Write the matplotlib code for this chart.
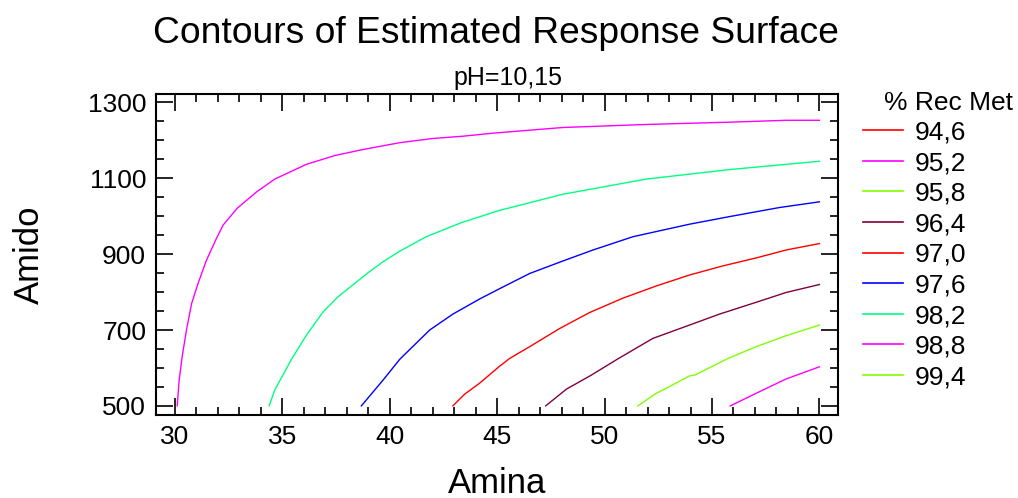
import numpy as np
import matplotlib.pyplot as plt
from matplotlib.lines import Line2D
from matplotlib.ticker import MultipleLocator

plt.rcParams['font.family'] = ['Liberation Sans', 'DejaVu Sans']

# contour levels shown in the legend
levels = ['94,6', '95,2', '95,8', '96,4', '97,0', '97,6', '98,2', '98,8', '99,4']
colors = ['#ff0000', '#ff00ff', '#80ff00', '#800040', '#ff0000',
          '#0000ff', '#00ff80', '#ff00ff', '#80ff00']

# contour lines (Amina, Amido)
c988_x = [30.11, 30.2, 30.34, 30.54, 30.78, 31.08, 31.47, 31.94, 32.25, 32.9, 33.8,
          34.65, 36.13, 37.44, 38.76, 40.47, 42.0, 43.4, 44.8, 48.06, 51.94, 55.81, 58.45, 60.0]
c988_y = [500, 568, 630, 700, 770, 823, 884, 942, 977, 1021, 1064,
          1098, 1137, 1160, 1176, 1194, 1205, 1211, 1219, 1234, 1242, 1248, 1253, 1253]

c982_x = [34.39, 34.65, 35.43, 36.13, 36.9, 37.6, 38.99, 39.69, 40.47, 41.7, 43.33,
          45.08, 48.06, 51.94, 55.81, 60.0]
c982_y = [500, 542, 623, 687, 748, 788, 851, 880, 908, 946, 983,
          1015, 1058, 1098, 1123, 1145]

c976_x = [38.68, 39.69, 40.47, 41.86, 42.94, 44.19, 45.08, 46.51, 48.06, 49.46,
          51.32, 53.95, 55.81, 58.14, 60.0]
c976_y = [500, 568, 623, 700, 742, 782, 808, 849, 882, 911,
          946, 979, 999, 1023, 1038]

c970_x = [42.94, 43.49, 44.19, 45.08, 45.58, 46.51, 47.91, 49.3, 50.85, 52.4,
          53.95, 55.5, 57.05, 58.45, 60.0]
c970_y = [500, 531, 560, 603, 625, 656, 704, 746, 784, 816,
          845, 869, 890, 911, 928]

c964_x = [47.26, 48.22, 49.38, 50.62, 52.25, 53.95, 55.35, 57.05, 58.45, 60.0]
c964_y = [500, 544, 581, 624, 678, 713, 742, 773, 799, 820]

c958_x = [51.55, 52.4, 52.79, 53.95, 54.19, 55.74, 57.05, 58.45, 60.0]
c958_y = [500, 533, 544, 579, 581, 625, 656, 685, 713]

c952_x = [55.85, 57.05, 58.45, 60.0]
c952_y = [500, 533, 571, 603]

curves = [(c952_x, c952_y, 1), (c958_x, c958_y, 2), (c964_x, c964_y, 3),
          (c970_x, c970_y, 4), (c976_x, c976_y, 5), (c982_x, c982_y, 6),
          (c988_x, c988_y, 7)]

fig = plt.figure(figsize=(10.18, 4.98), dpi=100)
ax = fig.add_axes([0.1532, 0.1667, 0.8235 - 0.1532, 0.811 - 0.1667])

for cx, cy, k in curves:
    ax.plot(cx, cy, color=colors[k], lw=1.0)

ax.set_xlim(29.12, 60.88)
ax.set_ylim(476, 1322)
ax.xaxis.set_major_locator(MultipleLocator(5))
ax.xaxis.set_minor_locator(MultipleLocator(1))
ax.yaxis.set_major_locator(MultipleLocator(200))
ax.yaxis.set_minor_locator(MultipleLocator(50))
ax.set_yticks([500, 700, 900, 1100, 1300])
ax.tick_params(which='both', direction='in', top=True, right=True,
               labelsize=19, width=1.2, colors='black')
ax.tick_params(which='major', length=12, pad=7)
ax.tick_params(which='minor', length=6)
for s in ax.spines.values():
    s.set_linewidth(1.5)

ax.set_xlabel('Amina', fontsize=25, labelpad=13)
ax.set_ylabel('Amido', fontsize=25, labelpad=30)

fig.text(0.4876, 0.932, 'Contours of Estimated Response Surface',
         ha='center', va='center', fontsize=26.8)
fig.text(0.4986, 0.843, 'pH=10,15', ha='center', va='center', fontsize=18)

handles = [Line2D([], [], color=c, lw=1.2) for c in colors]
fig.legend(handles, levels, loc='upper left', bbox_to_anchor=(0.848, 0.758),
           frameon=False, fontsize=19, handlelength=1.5, handletextpad=0.45,
           labelspacing=0.25, borderaxespad=0, borderpad=0)
fig.text(0.995, 0.793, '% Rec Met', ha='right', va='center', fontsize=19)

fig.savefig('out.png', dpi=100)
